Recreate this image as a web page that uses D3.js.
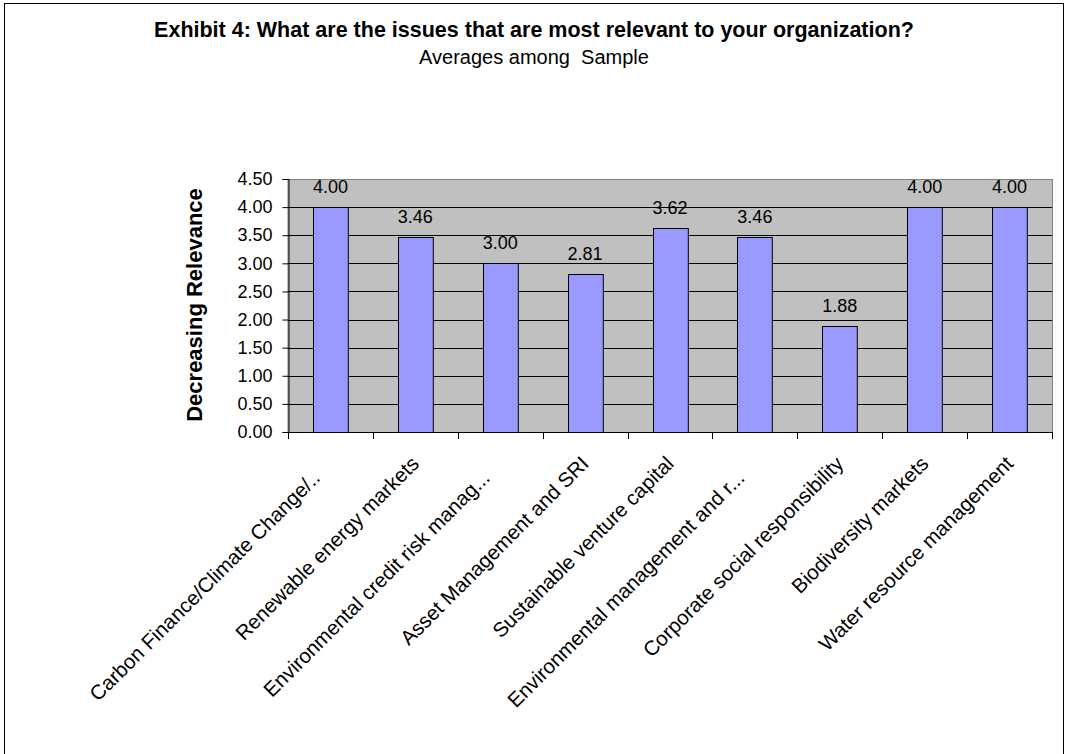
<!DOCTYPE html>
<html>
<head>
<meta charset="utf-8">
<script src="https://cdn.jsdelivr.net/npm/d3@7"></script>
<style>
  html, body { margin: 0; padding: 0; background: #fff; }
  text { font-family: Arial, "Liberation Sans", sans-serif; fill: #000; }
</style>
</head>
<body>
<svg id="chart" width="1068" height="754"></svg>
<script>
const categories = [
  "Carbon Finance/Climate Change/..",
  "Renewable energy markets",
  "Environmental credit risk manag...",
  "Asset Management and SRI",
  "Sustainable venture capital",
  "Environmental management and r...",
  "Corporate social responsibility",
  "Biodiversity markets",
  "Water resource management"
];
const values = [4.00, 3.46, 3.00, 2.81, 3.62, 3.46, 1.88, 4.00, 4.00];
const yTicks = [0, 0.5, 1, 1.5, 2, 2.5, 3, 3.5, 4, 4.5];
const titleText = "Exhibit 4: What are the issues that are most relevant to your organization?";
const subtitleText = "Averages among  Sample";
const yLabel = "Decreasing Relevance";

const svg = d3.select("#chart");
const plot = { left: 288, right: 1052, top: 179, bottom: 432 };

// outer frame
svg.append("rect").attr("x", 4.5).attr("y", 3.5).attr("width", 1059).attr("height", 760)
  .attr("fill", "#fff").attr("stroke", "#000").attr("stroke-width", 1);

svg.append("text").attr("x", 534).attr("y", 37).attr("text-anchor", "middle")
  .attr("font-weight", "bold").attr("font-size", 21.5).text(titleText);
svg.append("text").attr("x", 534).attr("y", 64).attr("text-anchor", "middle")
  .attr("font-size", 20).attr("xml:space", "preserve").style("white-space", "pre").text(subtitleText);

const x = d3.scaleBand().domain(categories).range([plot.left, plot.right])
  .paddingInner(0.59).paddingOuter(0.295);
const y = d3.scaleLinear().domain([0, 4.5]).range([plot.bottom, plot.top]);

// plot background
svg.append("rect").attr("x", plot.left).attr("y", plot.top + 0.5)
  .attr("width", plot.right - plot.left + 0.5).attr("height", plot.bottom - plot.top)
  .attr("fill", "#C0C0C0").attr("stroke", "#808080").attr("stroke-width", 1);

// gridlines
svg.append("g").selectAll("line").data(yTicks.filter(d => d > 0 && d < 4.5)).join("line")
  .attr("x1", plot.left).attr("x2", plot.right)
  .attr("y1", d => Math.round(y(d)) + 0.5).attr("y2", d => Math.round(y(d)) + 0.5)
  .attr("stroke", "#000").attr("stroke-width", 1);

// bars
svg.append("g").selectAll("rect").data(values).join("rect")
  .attr("x", (d, i) => Math.round(x(categories[i])) + 0.5)
  .attr("y", d => Math.round(y(d)) + 0.5)
  .attr("width", x.bandwidth())
  .attr("height", d => plot.bottom - Math.round(y(d)))
  .attr("fill", "#9999FF").attr("stroke", "#000").attr("stroke-width", 1);

// value labels
svg.append("g").selectAll("text").data(values).join("text")
  .attr("x", (d, i) => x(categories[i]) + x.bandwidth() / 2)
  .attr("y", d => y(d) - 14)
  .attr("text-anchor", "middle").attr("font-size", 18)
  .text(d => d.toFixed(2));

// y axis
const yAxis = d3.axisLeft(y).tickValues(yTicks).tickFormat(d3.format(".2f")).tickSize(6).tickPadding(10);
const gy = svg.append("g").attr("transform", `translate(${plot.left + 0.5},0)`).call(yAxis);
gy.selectAll("text").attr("font-size", 18).attr("font-family", "Arial, 'Liberation Sans', sans-serif").attr("fill", "#000");
gy.selectAll("line").attr("stroke", "#000");
gy.select(".domain").attr("stroke", "#000");

// x axis: ticks at category boundaries
const bounds = d3.range(categories.length + 1).map(i => plot.left + i * x.step());
const gx = svg.append("g");
gx.append("line").attr("x1", plot.left).attr("x2", plot.right + 1)
  .attr("y1", plot.bottom + 0.5).attr("y2", plot.bottom + 0.5).attr("stroke", "#000");
gx.selectAll("line.t").data(bounds).join("line").attr("class", "t")
  .attr("x1", d => Math.round(d) + 0.5).attr("x2", d => Math.round(d) + 0.5)
  .attr("y1", plot.bottom).attr("y2", plot.bottom + 7).attr("stroke", "#000");

// category labels (truncated labels sit slightly further along)
gx.selectAll("text").data(categories).join("text")
  .attr("transform", d => `translate(${x(d) + x.bandwidth() / 2 + 5},${plot.bottom + 33}) rotate(-45)`)
  .attr("dx", d => d.endsWith("..") ? -20 : 0)
  .attr("text-anchor", "end").attr("font-size", 20.5).text(d => d);

// y label
svg.append("text").attr("transform", `translate(202,305) rotate(-90)`)
  .attr("text-anchor", "middle").attr("font-weight", "bold").attr("font-size", 22).text(yLabel);
</script>
</body>
</html>
